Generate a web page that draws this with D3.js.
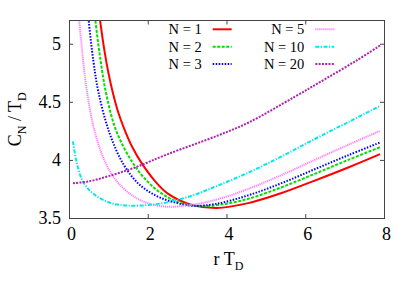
<!DOCTYPE html>
<meta charset="utf-8">
<style>

body {
  margin: 0;
  background: #fff;
}

svg {
  font-family: "Liberation Serif", "DejaVu Serif", serif;
}

.axis path {
  display: none;
}

.axis line {
  stroke: #444;
}

.frame {
  fill: none;
  stroke: #444;
  shape-rendering: crispEdges;
}

.curve {
  fill: none;
  stroke-width: 2;
}

.legend text {
  font-size: 14.5px;
}

</style>
<body>
<script src="https://cdn.jsdelivr.net/npm/d3@7"></script>
<script>

var width = 415,
    height = 291,
    margin = {top: 20.5, right: 31, bottom: 73, left: 69};

// r T_D readings
var r1  = [0.70, 0.79, 0.90, 1.00, 1.12, 1.25, 1.40, 1.60, 1.82, 2.19, 2.51, 3.10, 3.75, 4.55, 5.40, 6.24, 7.09, 7.90];
var c1  = [5.45, 5.20, 4.94, 4.75, 4.57, 4.41, 4.27, 4.115, 3.985, 3.815, 3.71, 3.615, 3.587, 3.628, 3.715, 3.822, 3.935, 4.05];

var r2  = [0.62, 0.67, 0.80, 0.95, 1.20, 1.60, 1.99, 2.36, 2.85, 3.40, 3.90, 4.55, 5.40, 6.24, 7.09, 7.90];
var c2  = [5.35, 5.20, 4.86, 4.56, 4.25, 3.985, 3.815, 3.71, 3.628, 3.603, 3.618, 3.665, 3.765, 3.88, 4.00, 4.11];

var r3  = [0.45, 0.50, 0.62, 0.75, 1.02, 1.37, 1.75, 2.22, 2.68, 3.15, 3.71, 4.55, 5.40, 6.24, 7.09, 7.90];
var c3  = [5.40, 5.20, 4.85, 4.58, 4.24, 3.97, 3.80, 3.69, 3.635, 3.605, 3.62, 3.695, 3.80, 3.92, 4.04, 4.15];

var r5  = [0.20, 0.26, 0.35, 0.46, 0.65, 0.92, 1.23, 1.62, 2.00, 2.45, 3.00, 3.71, 4.55, 5.40, 6.24, 7.09, 7.90];
var c5  = [5.45, 5.20, 4.88, 4.58, 4.25, 3.98, 3.81, 3.69, 3.628, 3.598, 3.608, 3.655, 3.75, 3.87, 4.00, 4.13, 4.25];

var r10 = [0.10, 0.19, 0.36, 0.65, 1.07, 1.50, 2.09, 2.60, 3.19, 3.75, 4.55, 5.40, 6.24, 7.09, 7.90];
var c10 = [4.16, 3.985, 3.81, 3.70, 3.628, 3.607, 3.614, 3.643, 3.70, 3.775, 3.89, 4.03, 4.18, 4.325, 4.465];

var r20 = [0.10, 0.50, 1.00, 1.67, 2.51, 3.78, 4.55, 5.74, 6.50, 7.30, 7.90];
var c20 = [3.80, 3.815, 3.86, 3.934, 4.05, 4.21, 4.32, 4.545, 4.695, 4.855, 4.985];

var labels = ["N = 1", "N = 2", "N = 3", "N = 5", "N = 10", "N = 20"];
var xTicks = [0, 2, 4, 6, 8];
var yTicks = [3.5, 4, 4.5, 5];

var styles = [
  {color: "#ff0000", dash: null},
  {color: "#00e000", dash: "3,1.5"},
  {color: "#0000ff", dash: "1.5,1.5"},
  {color: "#ff80ff", dash: "1.2,0.8"},
  {color: "#00e8f0", dash: "4,1.5,1.2,1.5"},
  {color: "#b020b0", dash: "2,1.3"}
];

var serif = "'Liberation Serif', 'DejaVu Serif', serif";

var series = [[r1, c1], [r2, c2], [r3, c3], [r5, c5], [r10, c10], [r20, c20]].map(function(s, i) {
  return {
    label: labels[i],
    style: styles[i],
    values: s[0].map(function(r, k) { return {r: r, c: s[1][k]}; })
  };
});

var w = width - margin.left - margin.right,
    h = height - margin.top - margin.bottom;

var x = d3.scaleLinear().domain([0, 8]).range([0, w]);
var y = d3.scaleLinear().domain([3.5, 5.2]).range([h, 0]);

var svg = d3.select("body").append("svg")
    .attr("width", width)
    .attr("height", height)
  .append("g")
    .attr("transform", "translate(" + margin.left + "," + margin.top + ")");

svg.append("defs").append("clipPath")
    .attr("id", "clip")
  .append("rect")
    .attr("width", w)
    .attr("height", h);

svg.append("g")
    .attr("class", "x axis")
    .attr("transform", "translate(0," + h + ")")
    .call(d3.axisBottom(x).tickValues(xTicks).tickSize(-4).tickPadding(9))
  .selectAll("text")
    .attr("dx", 2);

svg.append("g")
    .attr("class", "x axis")
    .call(d3.axisTop(x).tickValues(xTicks).tickSize(-4).tickFormat(""));

svg.append("g")
    .attr("class", "y axis")
    .call(d3.axisLeft(y).tickValues(yTicks).tickSize(-4).tickPadding(8).tickFormat(d3.format("")));

svg.append("g")
    .attr("class", "y axis")
    .attr("transform", "translate(" + w + ",0)")
    .call(d3.axisRight(y).tickValues(yTicks).tickSize(-4).tickFormat(""));

// gnuplot-like serif tick labels
svg.selectAll(".axis")
    .attr("font-family", serif)
    .attr("font-size", 18)
  .selectAll("text")
    .style("font-family", serif)
    .style("font-size", "18px")
    .attr("fill", "#000");

var line = d3.line()
    .curve(d3.curveCatmullRom.alpha(0.5))
    .x(function(d) { return x(d.r); })
    .y(function(d) { return y(d.c); });

svg.append("g")
    .attr("clip-path", "url(#clip)")
  .selectAll(".curve")
    .data(series)
  .enter().append("path")
    .attr("class", "curve")
    .attr("d", function(d) { return line(d.values); })
    .style("stroke", function(d) { return d.style.color; })
    .style("stroke-dasharray", function(d) { return d.style.dash; });

svg.append("rect")
    .attr("class", "frame")
    .attr("x", 0)
    .attr("y", 0)
    .attr("width", w)
    .attr("height", h);

// legend, two columns of three
var legend = svg.selectAll(".legend")
    .data(series)
  .enter().append("g")
    .attr("class", "legend")
    .attr("transform", function(d, i) {
      return "translate(" + (i < 3 ? 132.7 : 235.3) + "," + (8.8 + (i % 3) * 17.4) + ")";
    });

legend.append("text")
    .attr("text-anchor", "end")
    .attr("dy", "0.35em")
    .text(function(d) { return d.label; });

legend.append("line")
    .attr("x1", 11)
    .attr("x2", 30)
    .style("stroke-width", 2)
    .style("stroke", function(d) { return d.style.color; })
    .style("stroke-dasharray", function(d) { return d.style.dash; });

// axis titles
var xt = svg.append("text")
    .attr("x", w / 2 + 2)
    .attr("y", h + 47)
    .attr("text-anchor", "middle")
    .style("font-size", "18px");
xt.append("tspan").text("r T");
xt.append("tspan").attr("dy", 5).style("font-size", "12px").text("D");

var yt = svg.append("text")
    .attr("transform", "translate(" + (21 - margin.left) + "," + (h / 2) + ") rotate(-90)")
    .attr("text-anchor", "middle")
    .style("font-size", "18px");
yt.append("tspan").text("C");
yt.append("tspan").attr("dy", 5).style("font-size", "12px").text("N");
yt.append("tspan").attr("dy", -5).text(" / T");
yt.append("tspan").attr("dy", 5).style("font-size", "12px").text("D");

</script>
